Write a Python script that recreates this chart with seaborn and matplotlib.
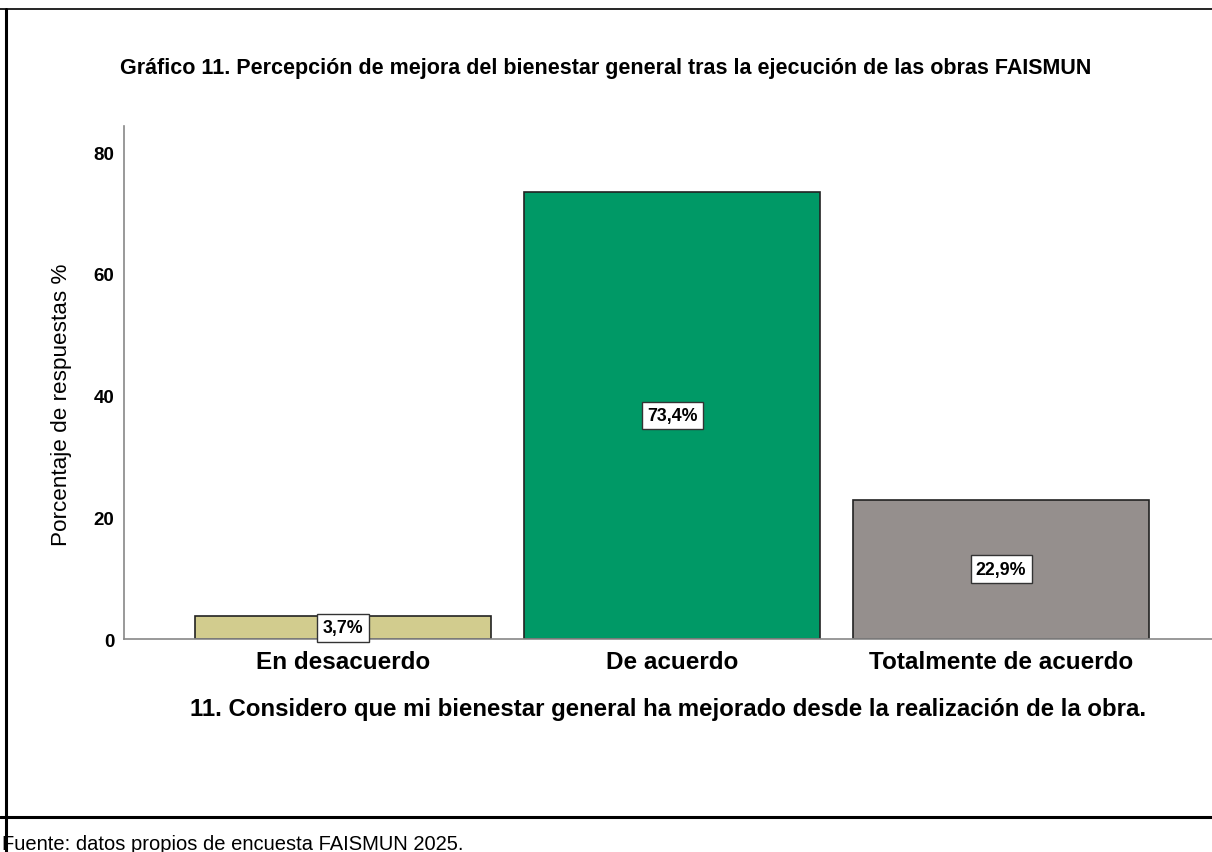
import matplotlib
matplotlib.use("Agg")
from matplotlib import pyplot as plt
from matplotlib.lines import Line2D
import pandas as pd
import seaborn as sns

categorias = ["En desacuerdo", "De acuerdo", "Totalmente de acuerdo"]
porcentajes = [3.7, 73.4, 22.9]
etiquetas = ["3,7%", "73,4%", "22,9%"]
colores = ["#d2cc8e", "#009966", "#958f8d"]

df = pd.DataFrame({"Respuesta": categorias, "Porcentaje": porcentajes})

sns.set_style("white")
plt.rcParams["font.family"] = ["Liberation Sans", "DejaVu Sans"]
plt.rcParams["text.color"] = "black"
plt.rcParams["axes.labelcolor"] = "black"
plt.rcParams["xtick.color"] = "black"
plt.rcParams["ytick.color"] = "black"

fig = plt.figure(figsize=(12.12, 8.53), dpi=100)
ax = fig.add_axes([0.1023, 0.2497, 0.8977, 0.6014])

sns.barplot(data=df, x="Respuesta", y="Porcentaje", hue="Respuesta",
            palette=colores, saturation=1, width=0.9, edgecolor="#222222", linewidth=1.2,
            legend=False, ax=ax)

# etiquetas en el centro de cada barra
for i, (v, txt) in enumerate(zip(porcentajes, etiquetas)):
    ax.text(i, v / 2, txt, ha="center", va="center", fontsize=12.8, fontweight="bold",
            color="black",
            bbox=dict(boxstyle="square,pad=0.3", facecolor="white", edgecolor="#333333", linewidth=1))

ax.set_xlim(-0.666, 2.641)
ax.set_ylim(0, 84.27)
ax.set_yticks([0, 20, 40, 60, 80])
ax.tick_params(axis="y", length=0, pad=7, labelsize=13.5)
ax.tick_params(axis="x", length=0, pad=8, labelsize=17.5)
for lab in ax.get_yticklabels() + ax.get_xticklabels():
    lab.set_fontweight("bold")

ax.set_xlabel("11. Considero que mi bienestar general ha mejorado desde la realización de la obra.",
              fontsize=17.3, fontweight="bold", labelpad=17)
ax.set_ylabel("Porcentaje de respuestas %", fontsize=16.2)
ax.yaxis.set_label_coords(-0.048, 0.458)

for s in ["top", "right"]:
    ax.spines[s].set_visible(False)
for s in ["left", "bottom"]:
    ax.spines[s].set_color("#888888")
    ax.spines[s].set_linewidth(1.2)

fig.text(0.4995, 0.92, "Gráfico 11. Percepción de mejora del bienestar general tras la ejecución de las obras FAISMUN",
         ha="center", va="center", fontsize=15.5, fontweight="bold")

# marco del documento
fig.add_artist(Line2D([0, 1], [0.988, 0.988], color="black", linewidth=1.2, transform=fig.transFigure))
fig.add_artist(Line2D([0.005, 0.005], [0, 0.988], color="black", linewidth=2.2, transform=fig.transFigure))
fig.add_artist(Line2D([0, 1], [0.041, 0.041], color="black", linewidth=2.2, transform=fig.transFigure))

fig.text(0.002, 0.01, "Fuente: datos propios de encuesta FAISMUN 2025.", ha="left", va="center", fontsize=14.5)

fig.savefig("out.png", dpi=100)
